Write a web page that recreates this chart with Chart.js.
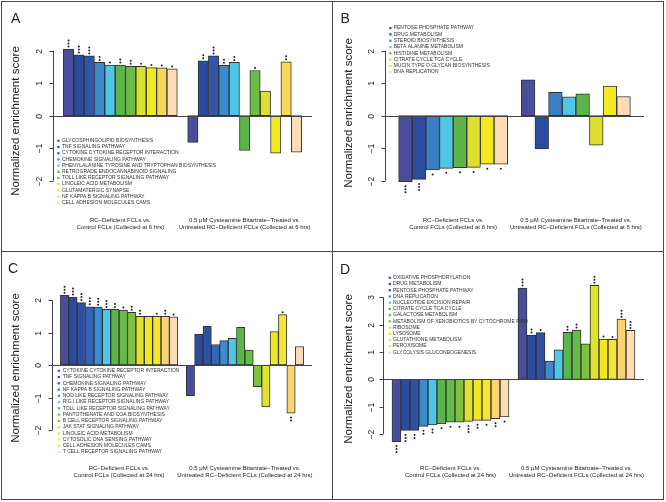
<!DOCTYPE html>
<html>
<head>
<meta charset="utf-8">
<script src="https://cdn.jsdelivr.net/npm/chart.js@4.4.1/dist/chart.umd.min.js"></script>
<style>
  body { margin: 0; background: #fff; }
  #fig { position: relative; width: 666px; height: 502px; background: #fff; }
  #fig canvas { position: absolute; }
  .rule { position: absolute; background: #4a4a4a; }
</style>
</head>
<body>
<div id="fig">
  <canvas id="panelA" width="332" height="251" style="left:0;top:0"></canvas>
  <canvas id="panelB" width="333" height="251" style="left:333px;top:0"></canvas>
  <canvas id="panelC" width="332" height="251" style="left:0;top:251px"></canvas>
  <canvas id="panelD" width="333" height="251" style="left:333px;top:251px"></canvas>
  <div class="rule" style="left:1px;top:1px;width:663px;height:1px"></div>
  <div class="rule" style="left:1px;top:499px;width:663px;height:1px"></div>
  <div class="rule" style="left:1px;top:1px;width:1px;height:499px"></div>
  <div class="rule" style="left:663px;top:1px;width:1px;height:499px"></div>
  <div class="rule" style="left:332px;top:1px;width:1px;height:499px"></div>
  <div class="rule" style="left:1px;top:251px;width:663px;height:1px"></div>
</div>
<script>
// group captions under the two bar blocks
const groupLabels6 = [
  ['RC\u2212Deficient FCLs vs.', 'Control FCLs (Collected at 6 hrs)'],
  ['0.5 \u00b5M Cysteamine Bitartrate\u2212Treated vs.', 'Untreated RC\u2212Deficient FCLs (Collected at 6 hrs)']
];
const groupLabels24 = [
  ['RC\u2212Deficient FCLs vs.', 'Control FCLs (Collected at 24 hrs)'],
  ['0.5 \u00b5M Cysteamine Bitartrate\u2212Treated vs.', 'Untreated RC\u2212Deficient FCLs (Collected at 24 hrs)']
];
const ticksABC = [-2, -1, 0, 1, 2];
const ticksD = [-2, -1, 0, 1, 2, 3];

// panel A
const aNames = ['GLYCOSPHINGOLIPID BIOSYNTHESIS', 'TNF SIGNALING PATHWAY', 'CYTOKINE CYTOKINE RECEPTOR INTERACTION',
  'CHEMOKINE SIGNALING PATHWAY', 'PHENYLALANINE TYROSINE AND TRYPTOPHAN BIOSYNTHESIS', 'RETROGRADE ENDOCANNABINOID SIGNALING',
  'TOLL LIKE RECEPTOR SIGNALING PATHWAY', 'LINOLEIC ACID METABOLISM', 'GLUTAMATERGIC SYNAPSE',
  'NF KAPPA B SIGNALING PATHWAY', 'CELL ADHESION MOLECULES CAMS'];
const aRc = [2.05, 1.87, 1.84, 1.64, 1.56, 1.56, 1.52, 1.52, 1.48, 1.47, 1.44];
const aCy = [-0.82, 1.69, 1.84, 1.55, 1.64, -1.07, 1.39, 0.76, -1.15, 1.66, -1.12];
const aStarsRc = [3, 3, 3, 2, 1, 2, 2, 1, 1, 1, 1];
const aStarsCy = [0, 2, 3, 2, 2, 0, 1, 0, 0, 2, 0];

// panel B
const bNames = ['PENTOSE PHOSPHATE PATHWAY', 'DRUG METABOLISM', 'STEROID BIOSYNTHESIS', 'BETA ALANINE METABOLISM',
  'HISTIDINE METABOLISM', 'CITRATE CYCLE TCA CYCLE', 'MUCIN TYPE O GLYCAN BIOSYNTHESIS', 'DNA REPLICATION'];
const bRc = [-2.03, -1.96, -1.67, -1.62, -1.60, -1.59, -1.49, -1.49];
const bCy = [1.10, -1.02, 0.72, 0.58, 0.67, -0.91, 0.91, 0.59];
const bStarsRc = [3, 3, 1, 1, 1, 1, 1, 1];
const bStarsCy = [0, 0, 0, 0, 0, 0, 0, 0];

// panel C
const cNames = ['CYTOKINE CYTOKINE RECEPTOR INTERACTION', 'TNF SIGNALING PATHWAY', 'CHEMOKINE SIGNALING PATHWAY',
  'NF KAPPA B SIGNALING PATHWAY', 'NOD LIKE RECEPTOR SIGNALING PATHWAY', 'RIG I LIKE RECEPTOR SIGNALING PATHWAY',
  'TOLL LIKE RECEPTOR SIGNALING PATHWAY', 'PANTOTHENATE AND COA BIOSYNTHESIS', 'B CELL RECEPTOR SIGNALING PATHWAY',
  'JAK STAT SIGNALING PATHWAY', 'LINOLEIC ACID METABOLISM', 'CYTOSOLIC DNA SENSING PATHWAY',
  'CELL ADHESION MOLECULES CAMS', 'T CELL RECEPTOR SIGNALING PATHWAY'];
const cRc = [2.15, 2.09, 1.92, 1.79, 1.78, 1.71, 1.71, 1.69, 1.62, 1.50, 1.50, 1.50, 1.50, 1.48];
const cCy = [-0.94, 0.94, 1.19, 0.63, 0.75, 0.82, 1.16, 0.46, -0.67, -1.29, 1.03, 1.55, -1.48, 0.57];
const cStarsRc = [3, 3, 3, 3, 3, 3, 2, 1, 2, 2, 0, 1, 2, 1];
const cStarsCy = [0, 0, 0, 0, 0, 0, 0, 0, 0, 0, 0, 1, 2, 0];

// panel D
const dNames = ['OXIDATIVE PHOSPHORYLATION', 'DRUG METABOLISM', 'PENTOSE PHOSPHATE PATHWAY', 'DNA REPLICATION',
  'NUCLEOTIDE EXCISION REPAIR', 'CITRATE CYCLE TCA CYCLE', 'GALACTOSE METABOLISM',
  'METABOLISM OF XENOBIOTICS BY CYTOCHROME P450', 'RIBOSOME', 'LYSOSOME', 'GLUTATHIONE METABOLISM',
  'PEROXISOME', 'GLYCOLYSIS GLUCONEOGENESIS'];
const dRc = [-2.28, -1.87, -1.87, -1.72, -1.67, -1.63, -1.57, -1.57, -1.54, -1.50, -1.50, -1.44, -1.38];
const dCy = [3.34, 1.62, 1.71, 0.67, 1.08, 1.72, 1.80, 1.30, 3.44, 1.47, 1.46, 2.20, 1.79];
const dStarsRc = [3, 3, 2, 2, 2, 1, 1, 1, 3, 2, 1, 2, 1];
const dStarsCy = [3, 2, 1, 0, 0, 2, 2, 0, 3, 1, 1, 3, 3];

// bar colours (one per pathway, reused in both blocks)
const aColors = ['#4a4c9c', '#2c4a9e', '#3256a8', '#3a8bcf', '#4ec6e6', '#5db54a', '#6cbc45', '#dbe02e', '#f3ea22', '#f9d95a', '#fcdcb2'];
const bColors = ['#4a4c9c', '#2c4a9e', '#3a7fc6', '#4ec6e6', '#5db54a', '#dde12e', '#f3ea22', '#fcdcb2'];
const cColors = ['#4a4c9c', '#2c4a9e', '#3050a4', '#3266b4', '#3a8dd0', '#4ec6e6', '#5ab64b', '#66ba46', '#80c040', '#dfe22e', '#eee826', '#f5e632', '#fbd572', '#fcdcb2'];
const dColors = ['#4a4c9c', '#2c4a9e', '#3050a4', '#3a8bcf', '#4ec6e6', '#5ab64b', '#66ba46', '#80c040', '#dfe22e', '#f0e824', '#f5e632', '#fbd572', '#fcdcb2'];

const FONT = '"Liberation Sans", Arial, sans-serif';
const NONE = 'rgba(0,0,0,0)';

function vText(ctx, s, x, y) {
  ctx.save();
  ctx.translate(x, y);
  ctx.rotate(-Math.PI / 2);
  ctx.textAlign = 'center';
  ctx.textBaseline = 'middle';
  ctx.fillText(s, 0, 0);
  ctx.restore();
}

function line(ctx, x1, y1, x2, y2) {
  ctx.beginPath();
  ctx.moveTo(x1, y1);
  ctx.lineTo(x2, y2);
  ctx.stroke();
}

// draws the R-style decorations: zero line, axis, legend, stars, captions
function rStyle(p, stars) {
  return {
    id: 'rStyle',
    afterDatasetsDraw(chart) {
      const { ctx, chartArea: ca, scales: { x, y } } = chart;
      const L = p.layout;
      ctx.save();
      ctx.strokeStyle = '#444';
      ctx.lineWidth = 1;

      const y0 = Math.round(y.getPixelForValue(0)) + 0.5;
      line(ctx, ca.left, y0, ca.right, y0);

      const vals = y.ticks.map(t => t.value);
      const ax = Math.round(ca.left) + 0.5;
      line(ctx, ax, y.getPixelForValue(Math.min(...vals)), ax, y.getPixelForValue(Math.max(...vals)));
      ctx.fillStyle = '#222';
      ctx.font = '8.5px ' + FONT;
      vals.forEach(v => {
        const py = Math.round(y.getPixelForValue(v)) + 0.5;
        line(ctx, ax - 4, py, ax, py);
        vText(ctx, v < 0 ? '\u2212' + Math.abs(v) : String(v), L.tickX, py);
      });

      ctx.font = '11.5px ' + FONT;
      vText(ctx, 'Normalized enrichment score', 16, L.titleY);

      ctx.font = '14px ' + FONT;
      ctx.textAlign = 'left';
      ctx.textBaseline = 'alphabetic';
      ctx.fillText(p.letter, L.letterX, L.letterY);

      // significance marks
      const meta = chart.getDatasetMeta(0);
      ctx.fillStyle = '#222';
      meta.data.forEach((bar, i) => {
        const k = stars[i];
        const v = chart.data.datasets[0].data[i];
        for (let j = 0; j < k; j++) {
          const sy = v > 0 ? bar.y - 2.5 - j * 3 : bar.y + 4.5 + j * 3;
          ctx.beginPath();
          ctx.arc(bar.x, sy, 1, 0, Math.PI * 2);
          ctx.fill();
        }
      });

      // legend
      ctx.font = '5px ' + FONT;
      ctx.textBaseline = 'middle';
      p.names.forEach((name, i) => {
        const ly = L.legendY + i * L.legendRow;
        ctx.fillStyle = p.colors[i];
        ctx.fillRect(L.markerX - 1, ly - 1, 2.2, 2.2);
        ctx.fillStyle = '#333';
        ctx.fillText(name, L.textX, ly);
      });

      // group captions
      const n = p.names.length;
      const centers = [
        (x.getPixelForValue(1) + x.getPixelForValue(n)) / 2,
        (x.getPixelForValue(n + 2) + x.getPixelForValue(2 * n + 1)) / 2
      ];
      ctx.font = '6px ' + FONT;
      ctx.fillStyle = '#222';
      ctx.textAlign = 'center';
      p.groups.forEach((lines, g) => {
        lines.forEach((s, r) => ctx.fillText(s, centers[g], L.groupY + r * 7.3));
      });
      ctx.restore();
    }
  };
}

function drawPanel(p) {
  const L = p.layout;
  const labels = ['', ...p.names, '', ...p.names, ''];
  const values = [null, ...p.rc, null, ...p.cy, null];
  const fills = [NONE, ...p.colors, NONE, ...p.colors, NONE];
  const stars = [0, ...p.starsRc, 0, ...p.starsCy, 0];
  const top = L.zeroY - p.yMax * L.unit;
  const bottom = L.zeroY - p.yMin * L.unit;

  new Chart(document.getElementById(p.id), {
    type: 'bar',
    data: {
      labels: labels,
      datasets: [{
        data: values,
        backgroundColor: fills,
        borderColor: '#333',
        borderWidth: 1,
        borderSkipped: false,
        barPercentage: 1,
        categoryPercentage: 1
      }]
    },
    options: {
      responsive: false,
      animation: false,
      events: [],
      layout: { padding: { left: L.left, right: L.width - L.right, top: top, bottom: L.height - bottom } },
      plugins: { legend: { display: false }, tooltip: { enabled: false } },
      scales: {
        x: { display: false, offset: true },
        y: {
          display: false,
          min: p.yMin,
          max: p.yMax,
          afterBuildTicks: s => { s.ticks = p.ticks.map(v => ({ value: v })); }
        }
      }
    },
    plugins: [rStyle(p, stars)]
  });
}

drawPanel({
  id: 'panelA', letter: 'A', names: aNames, rc: aRc, cy: aCy, starsRc: aStarsRc, starsCy: aStarsCy,
  colors: aColors, groups: groupLabels6, ticks: ticksABC, yMin: -2.6, yMax: 2.6,
  layout: { width: 332, height: 251, left: 53, right: 312, zeroY: 115.7, unit: 32.5, tickX: 40, titleY: 121,
    letterX: 11, letterY: 23, legendY: 140.7, legendRow: 6.2, markerX: 58.3, textX: 62, groupY: 220 }
});
drawPanel({
  id: 'panelB', letter: 'B', names: bNames, rc: bRc, cy: bCy, starsRc: bStarsRc, starsCy: bStarsCy,
  colors: bColors, groups: groupLabels6, ticks: ticksABC, yMin: -2.6, yMax: 2.6,
  layout: { width: 333, height: 251, left: 52, right: 311, zeroY: 115.7, unit: 32.5, tickX: 39, titleY: 113,
    letterX: 7.5, letterY: 23, legendY: 28, legendRow: 6.3, markerX: 57.3, textX: 60.7, groupY: 220 }
});
drawPanel({
  id: 'panelC', letter: 'C', names: cNames, rc: cRc, cy: cCy, starsRc: cStarsRc, starsCy: cStarsCy,
  colors: cColors, groups: groupLabels24, ticks: ticksABC, yMin: -2.6, yMax: 2.6,
  layout: { width: 332, height: 251, left: 52, right: 312, zeroY: 114, unit: 32.5, tickX: 39, titleY: 117,
    letterX: 8, letterY: 22, legendY: 119.7, legendRow: 6.26, markerX: 58.7, textX: 62.7, groupY: 217.3 }
});
drawPanel({
  id: 'panelD', letter: 'D', names: dNames, rc: dRc, cy: dCy, starsRc: dStarsRc, starsCy: dStarsCy,
  colors: dColors, groups: groupLabels24, ticks: ticksD, yMin: -2.6, yMax: 3.8,
  layout: { width: 333, height: 251, left: 50, right: 311, zeroY: 128.3, unit: 27.33, tickX: 39, titleY: 118,
    letterX: 7, letterY: 23, legendY: 26.7, legendRow: 6.22, markerX: 56.7, textX: 60, groupY: 217.3 }
});
</script>
</body>
</html>
